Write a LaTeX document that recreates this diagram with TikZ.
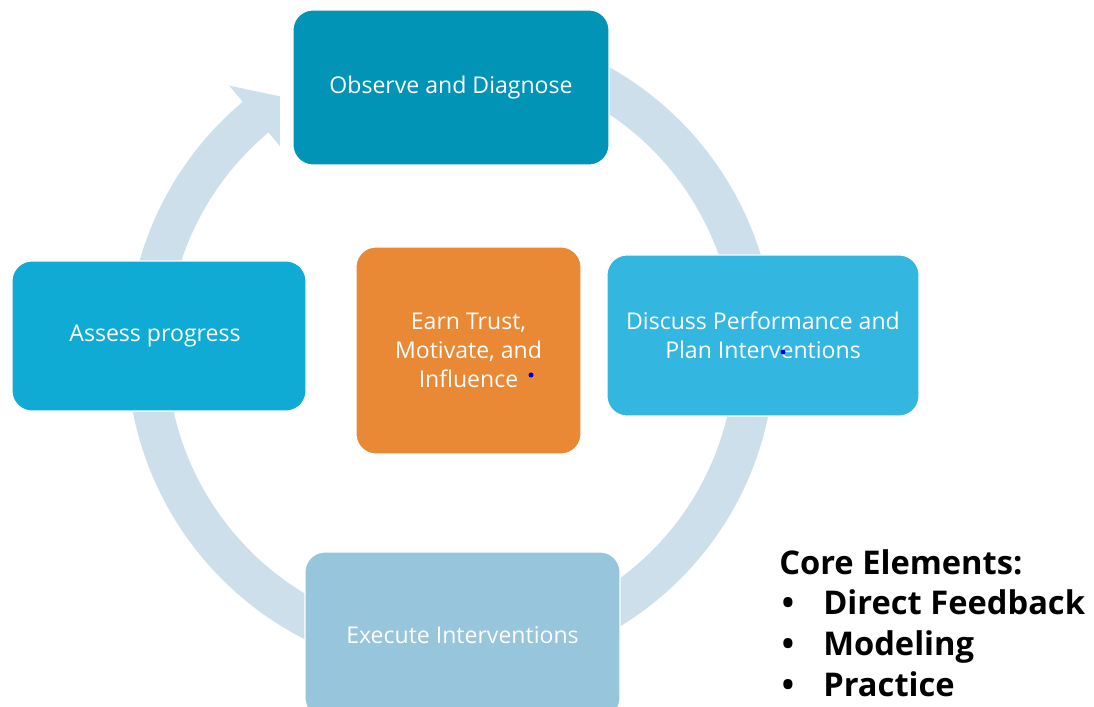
\documentclass[tikz,border=0pt]{standalone}
\usepackage{fontspec}
\setmainfont{Open Sans}
\usetikzlibrary{calc}
\definecolor{ringc}{RGB}{204,223,235}
\definecolor{topc}{RGB}{1,148,183}
\definecolor{leftc}{RGB}{16,171,213}
\definecolor{rightc}{RGB}{51,182,224}
\definecolor{botc}{RGB}{150,197,220}
\definecolor{orangec}{RGB}{233,136,53}
\definecolor{dotc}{RGB}{0,0,230}
\begin{document}
\begin{tikzpicture}[x=0.75pt,y=0.75pt,
  box/.style={rounded corners=15pt, draw=white, line width=0.8pt, text=white,
    font=\fontsize{17.3}{21.8}\selectfont, align=center, inner sep=0pt, outer sep=0pt},
  dotmark/.style={fill=dotc}]
\useasboundingbox (0,0) rectangle (1094,706);
\clip (0,0) rectangle (1094,706);
\coordinate (C) at (451,356);
% circular arrow
\fill[ringc] ($(C)+(80:324)$) arc[start angle=80,end angle=-230,radius=324]
  -- ($(C)+(130:345)$) -- ($(C)+(124:306)$) -- ($(C)+(130:266)$)
  -- ($(C)+(130:284)$) arc[start angle=130,end angle=440,radius=284] -- cycle;
% boxes
\node[box, fill=topc, minimum width=237pt, minimum height=116.25pt] (obs) at (451,618.5) {Observe and Diagnose};
\node[box, fill=leftc, minimum width=220.5pt, minimum height=112.5pt] (ass) at (159,370) {\hspace*{-6pt}Assess progress};
\node[box, fill=rightc, minimum width=234pt, minimum height=120.75pt] (dis) at (763,370.5) {Discuss Performance and\\Plan Interventions};
\node[box, fill=botc, minimum width=236.25pt, minimum height=124.5pt] (exe) at (462.5,71) {Execute Interventions};
\node[box, fill=orangec, minimum width=168.75pt, minimum height=155.25pt] (earn) at (468.5,355.5) {Earn Trust,\\Motivate, and\\Influence};
\fill[dotmark] (531,331) circle[radius=2.5];
\fill[dotmark] (783,354) circle[radius=2.5];
% core elements
\node[anchor=north west, align=left, inner sep=0pt, font=\bfseries\fontsize{24.5}{30.5}\selectfont] (core) at (779,157)
 {Core Elements:\\
  \makebox[33pt][l]{\hspace{2pt}•}Direct Feedback\\
  \makebox[33pt][l]{\hspace{2pt}•}Modeling\\
  \makebox[33pt][l]{\hspace{2pt}•}Practice};
\end{tikzpicture}
\end{document}
